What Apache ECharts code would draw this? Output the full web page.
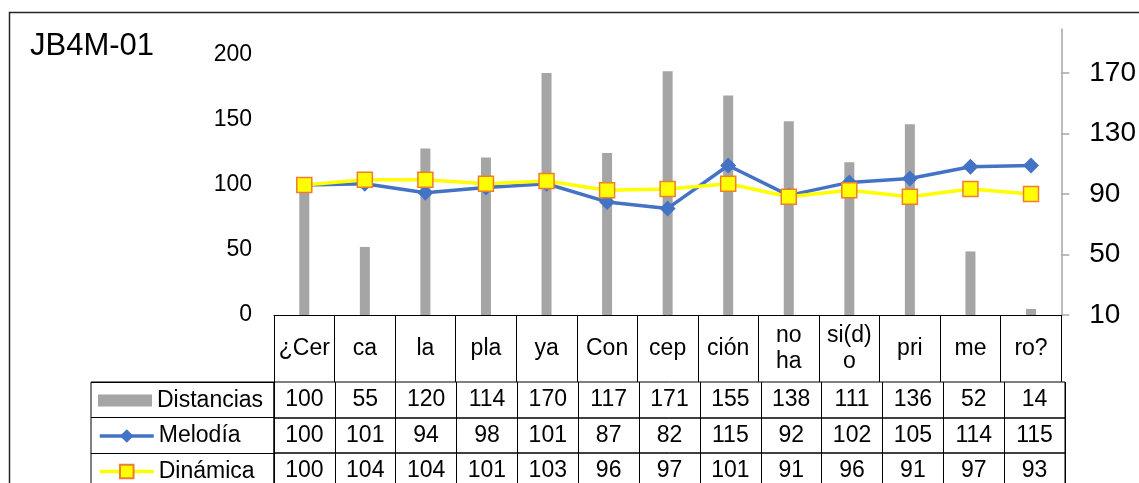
<!DOCTYPE html>
<html>
<head>
<meta charset="utf-8">
<script src="https://cdn.jsdelivr.net/npm/echarts@6/dist/echarts.min.js"></script>
<style>
html,body{margin:0;padding:0;background:#fff;overflow:hidden;}
#chart{width:1139px;height:500px;}
</style>
</head>
<body>
<div id="chart"></div>
<script>
const categories = ['¿Cer','ca','la','pla','ya','Con','cep','ción','no\nha','si(d)\no','pri','me','ro?'];
const distancias = [100,55,120,114,170,117,171,155,138,111,136,52,14];
const melodia = [100,101,94,98,101,87,82,115,92,102,105,114,115];
const dinamica = [100,104,104,101,103,96,97,101,91,96,91,97,93];
const leftTicks = [0,50,100,150,200];
const rightTicks = [10,50,90,130,170];
const seriesNames = ['Distancias','Melodía','Dinámica'];
const rowValues = [distancias, melodia, dinamica];

const FONT = 'Liberation Sans, Arial, sans-serif';
const GL = 274, GR = 74;
const rowTops = [382, 418, 453];
const rowH = [36, 35, 36];

const chart = echarts.init(document.getElementById('chart'), null, {renderer:'canvas'});

const grids = [{left:GL, right:GR, top:29, height:286}];
const xAxes = [{
  type:'category', gridIndex:0, data:categories, boundaryGap:true,
  axisLine:{show:true, lineStyle:{color:'#000', width:1}},
  axisTick:{show:true, interval:0, length:67, inside:false, lineStyle:{color:'#000', width:1}},
  axisLabel:{interval:0, color:'#000', fontFamily:FONT, fontSize:23, lineHeight:26, margin:34, verticalAlign:'middle', align:'center'},
  splitLine:{show:false}
}];
const yAxes = [
  {type:'value', gridIndex:0, position:'left', min:0, max:220, interval:50,
   axisLine:{show:false}, axisTick:{show:false}, splitLine:{show:false},
   axisLabel:{color:'#000', fontFamily:FONT, fontSize:23, margin:22, customValues:leftTicks}},
  {type:'value', gridIndex:0, position:'right', min:10, max:199, interval:40,
   axisLine:{show:true, lineStyle:{color:'#A6A6A6', width:1.5}},
   axisTick:{show:true, length:8, lineStyle:{color:'#A6A6A6', width:1.5}, customValues:rightTicks},
   splitLine:{show:false},
   axisLabel:{color:'#000', fontFamily:FONT, fontSize:28, margin:28, customValues:rightTicks}}
];

rowValues.forEach((vals, r) => {
  grids.push({left:GL, right:GR, top:rowTops[r], height:rowH[r], show:true, borderColor:'#000', borderWidth:1, backgroundColor:'transparent'});
  const gi = grids.length - 1;
  xAxes.push({
    type:'category', gridIndex:gi, data:categories, boundaryGap:true,
    axisLine:{show:false}, axisTick:{show:false},
    splitLine:{show:true, interval:0, lineStyle:{color:'#000', width:1}},
    axisLabel:{interval:0, color:'#000', fontFamily:FONT, fontSize:23, verticalAlign:'middle',
      margin:-rowH[r]/2, formatter:(v, i) => String(vals[i])}
  });
  yAxes.push({type:'value', gridIndex:gi, show:false});
});

// legend column cells
grids.push({left:91, width:GL-91, top:rowTops[0], height:rowTops[2]+rowH[2]-rowTops[0], show:true, borderColor:'#000', borderWidth:1});
const lgi = grids.length - 1;
xAxes.push({type:'value', gridIndex:lgi, show:false});
yAxes.push({type:'category', gridIndex:lgi, data:seriesNames, inverse:true, boundaryGap:true,
  axisLine:{show:false}, axisTick:{show:false}, axisLabel:{show:false},
  splitLine:{show:true, interval:0, lineStyle:{color:'#000', width:1}}});

const legends = seriesNames.map((name, r) => {
  const ih = r === 0 ? 12 : 17;
  const l = {
    data:[name], orient:'horizontal', left:98, top:rowTops[r] + rowH[r]/2 - 11,
    itemWidth:54, itemHeight:ih, padding:0, selectedMode:false,
    lineStyle:{width:3.5},
    textStyle:{color:'#000', fontFamily:FONT, fontSize:23, lineHeight:22}
  };
  if (r === 0) l.icon = 'rect';
  return l;
});

chart.setOption({
  animation:false,
  backgroundColor:'#fff',
  title:{text:'JB4M-01', left:30, top:31, padding:0,
    textStyle:{color:'#000', fontFamily:FONT, fontSize:31, fontWeight:'normal'}},
  graphic:[{type:'rect', shape:{x:9.5, y:12.5, width:1300, height:600},
    style:{fill:'none', stroke:'#262626', lineWidth:1.5}, silent:true, z:-1}],
  legend:legends,
  grid:grids,
  xAxis:xAxes,
  yAxis:yAxes,
  series:[
    {name:'Distancias', type:'bar', xAxisIndex:0, yAxisIndex:1, data:distancias,
     barWidth:10, itemStyle:{color:'#A5A5A5'}, clip:true},
    {name:'Melodía', type:'line', xAxisIndex:0, yAxisIndex:0, data:melodia,
     symbol:'diamond', symbolSize:16, showAllSymbol:true,
     lineStyle:{color:'#4472C4', width:3.5}, itemStyle:{color:'#4472C4'}},
    {name:'Dinámica', type:'line', xAxisIndex:0, yAxisIndex:0, data:dinamica,
     symbol:'rect', symbolSize:15, showAllSymbol:true,
     lineStyle:{color:'#FFFF00', width:3.5},
     itemStyle:{color:'#FFFF00', borderColor:'#ED7D31', borderWidth:1.5}}
  ]
});
</script>
</body>
</html>
